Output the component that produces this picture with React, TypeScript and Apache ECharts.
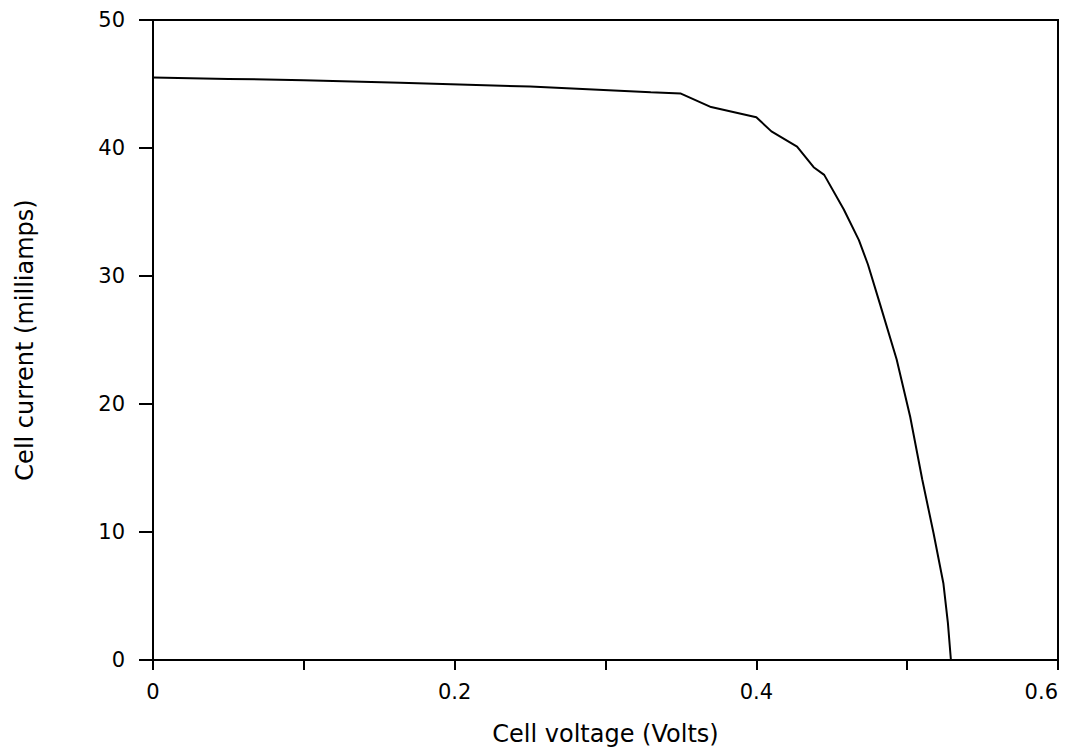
import React, { useEffect, useRef } from "react";
import * as echarts from "echarts";

const voltage = [0, 0.05, 0.1, 0.164, 0.25, 0.33, 0.35, 0.37, 0.4, 0.41, 0.427, 0.438, 0.445, 0.458, 0.468, 0.474, 0.482, 0.493, 0.502, 0.51, 0.5175, 0.524, 0.527, 0.529];
const current = [45.5, 45.4, 45.3, 45.1, 44.8, 44.35, 44.25, 43.2, 42.4, 41.3, 40.1, 38.5, 37.9, 35.2, 32.8, 30.9, 27.8, 23.5, 19.0, 14.1, 9.9, 6.0, 2.9, 0];
const xTickValues = [0, 0.2, 0.4, 0.6];
const xTickLabels = ["0", "0.2", "0.4", "0.6"];
const yTickLabels = ["0", "10", "20", "30", "40", "50"];

export default function App() {
  const ref = useRef<HTMLDivElement>(null);
  useEffect(() => {
    if (!ref.current) return;
    const chart = echarts.init(ref.current, null, { renderer: "svg" });
    const font = "'DejaVu Sans', Verdana, sans-serif";
    chart.setOption({
      animation: false,
      backgroundColor: "#ffffff",
      grid: {
        left: 153,
        right: 13,
        top: 20,
        bottom: 93,
        show: true,
        borderColor: "#000",
        borderWidth: 2,
        containLabel: false,
        outerBoundsMode: "none",
      },
      xAxis: {
        type: "value",
        min: 0,
        max: 0.6,
        interval: 0.1,
        name: "Cell voltage (Volts)",
        nameLocation: "middle",
        nameGap: 62,
        nameTextStyle: { fontFamily: font, fontSize: 24, color: "#000" },
        axisLine: { show: true, lineStyle: { color: "#000", width: 2 } },
        axisTick: { show: true, inside: false, length: 10, lineStyle: { color: "#000", width: 2 } },
        axisLabel: {
          margin: 21,
          fontFamily: font,
          fontSize: 21,
          color: "#000",
          showMaxLabel: true,
          showMinLabel: true,
          alignMaxLabel: "right",
          formatter: (v: number) => {
            const i = xTickValues.findIndex((t) => Math.abs(t - v) < 1e-6);
            return i >= 0 ? xTickLabels[i] : "";
          },
        },
        splitLine: { show: false },
      },
      yAxis: {
        type: "value",
        min: 0,
        max: 50,
        interval: 10,
        name: "Cell current (milliamps)",
        nameLocation: "middle",
        nameGap: 116,
        nameTextStyle: { fontFamily: font, fontSize: 24, color: "#000" },
        axisLine: { show: true, lineStyle: { color: "#000", width: 2 } },
        axisTick: { show: true, inside: false, length: 14, lineStyle: { color: "#000", width: 2 } },
        axisLabel: {
          margin: 28,
          fontFamily: font,
          fontSize: 21,
          color: "#000",
          formatter: (v: number) => yTickLabels[Math.round(v / 10)] ?? "",
        },
        splitLine: { show: false },
      },
      series: [
        {
          type: "line",
          data: voltage.map((v, i) => [v, current[i]]),
          showSymbol: false,
          symbol: "none",
          smooth: false,
          lineStyle: { color: "#000", width: 2 },
        },
      ],
    });
    return () => chart.dispose();
  }, []);
  return (
    <div
      ref={ref}
      style={{ position: "fixed", left: 0, top: 0, width: 1071, height: 753, background: "#fff" }}
    />
  );
}
